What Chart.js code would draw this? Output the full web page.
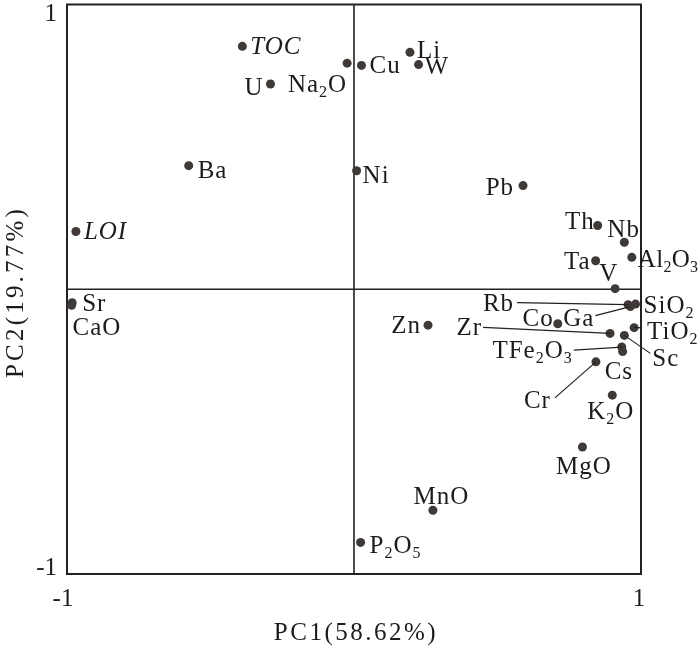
<!DOCTYPE html>
<html><head><meta charset="utf-8">
<script src="https://cdn.jsdelivr.net/npm/chart.js@4/dist/chart.umd.min.js"></script>
<style>html,body{margin:0;padding:0;background:#fff}#wrap{width:700px;height:646px}</style>
</head><body><div id="wrap"><canvas id="c" width="700" height="646"></canvas></div>
<script>
// ---- data ----
const names = ['TOC','U','Na2O','Cu','Li','W','Ba','Ni','Pb','LOI','Th','Nb','Ta','Al2O3','V','Sr','CaO','Rb','Ga','SiO2','Co','Zn','Zr','TiO2','Sc','TFe2O3','Cs','Cr','K2O','MgO','MnO','P2O5'];
const pc1 = [-0.389,-0.291,-0.024,0.026,0.195,0.225,-0.576,0.009,0.589,-0.969,0.849,0.942,0.842,0.968,0.910,-0.982,-0.984,0.955,0.963,0.981,0.710,0.258,0.892,0.976,0.942,0.933,0.936,0.843,0.900,0.796,0.275,0.023];
const pc2 = [0.853,0.721,0.794,0.786,0.832,0.789,0.434,0.416,0.364,0.203,0.224,0.165,0.100,0.112,0.002,-0.047,-0.056,-0.054,-0.061,-0.052,-0.121,-0.126,-0.155,-0.135,-0.162,-0.203,-0.219,-0.255,-0.372,-0.554,-0.776,-0.889];
const xTicks = [-1, 1];
const yTicks = [-1, 1];
const xTitle = 'PC1(58.62%)';
const yTitle = 'PC2(19.77%)';
const italicNames = ['TOC','LOI'];

// ---- label placement (style only: offsets in px from each point) ----
const place = {
  TOC:{dx:8,dy:0,a:'left'}, U:{dx:-8,dy:3,a:'right'}, Na2O:{dx:-1,dy:21,a:'right'},
  Cu:{dx:8,dy:0,a:'left'}, Li:{dx:7,dy:-2,a:'left'}, W:{dx:6,dy:1,a:'left'},
  Ba:{dx:9,dy:4,a:'left'}, Ni:{dx:6,dy:4,a:'left'}, Pb:{dx:-10,dy:1,a:'right'},
  LOI:{dx:8,dy:0,a:'left'}, Th:{dx:-4,dy:-4,a:'right'}, Nb:{dx:-17,dy:-13,a:'left'},
  Ta:{dx:-6,dy:0,a:'right'}, Al2O3:{dx:6,dy:2,a:'left',ls:0.3}, V:{dx:-7,dy:-16,a:'center'},
  Sr:{dx:10,dy:0,a:'left'}, CaO:{dx:1,dy:22,a:'left'},
  Rb:{lx:-111,ly:-2,dx:-4,dy:0,a:'right'},
  Ga:{lx:-35,ly:9,dx:-2,dy:2,a:'right'},
  SiO2:{dx:8,dy:1,a:'left'},
  Co:{dx:-5,dy:-6,a:'right'}, Zn:{dx:-8,dy:0,a:'right'},
  Zr:{lx:-127,ly:-6,dx:-2,dy:0,a:'right'},
  TiO2:{lx:8,ly:0,dx:5,dy:3,a:'left'},
  Sc:{lx:26,ly:18,dx:2,dy:5,a:'left'},
  TFe2O3:{lx:-48,ly:3,dx:-2,dy:0,a:'right'},
  Cs:{dx:-18,dy:19,a:'left'},
  Cr:{lx:-41,ly:36,dx:-5,dy:2,a:'right'},
  K2O:{dx:-2,dy:16,a:'center'}, MgO:{dx:1,dy:19,a:'center'},
  MnO:{dx:8,dy:-14,a:'center'}, P2O5:{dx:9,dy:3,a:'left'}
};
const FONT = '"Liberation Serif", "Times New Roman", serif';
const INK = '#1e1b1a';

function drawRich(ctx, text, x, y, align, italic, ls) {
  const size = 25, sub = 16;
  const segs = [];
  text.replace(/\d+|[^\d]+/g, m => { segs.push({t:m, sub:/\d/.test(m)}); return m; });
  const f = s => (italic ? 'italic ' : '') + (s.sub ? sub : size) + 'px ' + FONT;
  ctx.letterSpacing = ls + 'px';
  let w = 0;
  segs.forEach(s => { ctx.font = f(s); s.w = ctx.measureText(s.t).width; w += s.w; });
  w -= ls;
  let sx = align === 'left' ? x : align === 'right' ? x - w : x - w / 2;
  const base = y + 8;
  ctx.textAlign = 'left'; ctx.textBaseline = 'alphabetic';
  segs.forEach(s => { ctx.font = f(s); ctx.fillText(s.t, sx, s.sub ? base + 5 : base); sx += s.w; });
  ctx.letterSpacing = '0px';
}

const framePlugin = {
  id: 'frame',
  beforeDatasetsDraw(chart) {
    const {ctx, chartArea: ca, scales: {x, y}} = chart;
    ctx.save();
    ctx.strokeStyle = '#222';
    ctx.lineWidth = 1.6;
    const x0 = x.getPixelForValue(0), y0 = y.getPixelForValue(0);
    ctx.beginPath();
    ctx.moveTo(x0, ca.top); ctx.lineTo(x0, ca.bottom);
    ctx.moveTo(ca.left, y0); ctx.lineTo(ca.right, y0);
    ctx.stroke();
    ctx.lineWidth = 2;
    ctx.strokeRect(ca.left, ca.top, ca.right - ca.left, ca.bottom - ca.top);
    ctx.restore();
  },
  afterDatasetsDraw(chart) {
    const {ctx, chartArea: ca, scales: {x, y}} = chart;
    ctx.save();
    ctx.fillStyle = INK; ctx.strokeStyle = '#222'; ctx.lineWidth = 1.2;
    names.forEach((n, i) => {
      const px = x.getPixelForValue(pc1[i]), py = y.getPixelForValue(pc2[i]);
      const p = place[n] || {dx:8,dy:0,a:'left'};
      let ax = px, ay = py;
      if (p.lx !== undefined) {
        ax = px + p.lx; ay = py + p.ly;
        ctx.beginPath(); ctx.moveTo(px, py); ctx.lineTo(ax, ay); ctx.stroke();
      }
      drawRich(ctx, n, ax + p.dx, ay + p.dy, p.a, italicNames.includes(n), p.ls !== undefined ? p.ls : 1);
    });
    // tick labels
    ctx.font = '25px ' + FONT;
    ctx.textBaseline = 'middle';
    ctx.textAlign = 'right';
    yTicks.forEach(v => {
      const yy = y.getPixelForValue(v);
      ctx.fillText(String(v), ca.left - 10, v > 0 ? yy + 10 : yy - 6);
    });
    ctx.textAlign = 'center';
    xTicks.forEach(v => {
      const xx = x.getPixelForValue(v);
      ctx.fillText(String(v), v < 0 ? xx - 4 : xx - 2, ca.bottom + 25);
    });
    // axis titles
    ctx.letterSpacing = '2.5px';
    ctx.fillText(xTitle, (ca.left + ca.right) / 2 + 2, ca.bottom + 59);
    ctx.letterSpacing = '3.2px';
    ctx.translate(16, 294);
    ctx.rotate(-Math.PI / 2);
    ctx.fillText(yTitle, 2, 0);
    ctx.restore();
  }
};

new Chart(document.getElementById('c'), {
  type: 'scatter',
  data: {
    datasets: [{
      data: pc1.map((v, i) => ({x: v, y: pc2[i]})),
      pointRadius: 4.5, pointHoverRadius: 4.5,
      backgroundColor: '#3f3a37', borderWidth: 0
    }]
  },
  options: {
    responsive: false, animation: false, devicePixelRatio: 1,
    layout: {padding: {left: 67, right: 59, top: 2, bottom: 72}},
    scales: {
      x: {type: 'linear', min: -1, max: 1, display: false},
      y: {type: 'linear', min: -1, max: 1, display: false}
    },
    plugins: {legend: {display: false}, tooltip: {enabled: false}}
  },
  plugins: [framePlugin]
});
</script></body></html>
